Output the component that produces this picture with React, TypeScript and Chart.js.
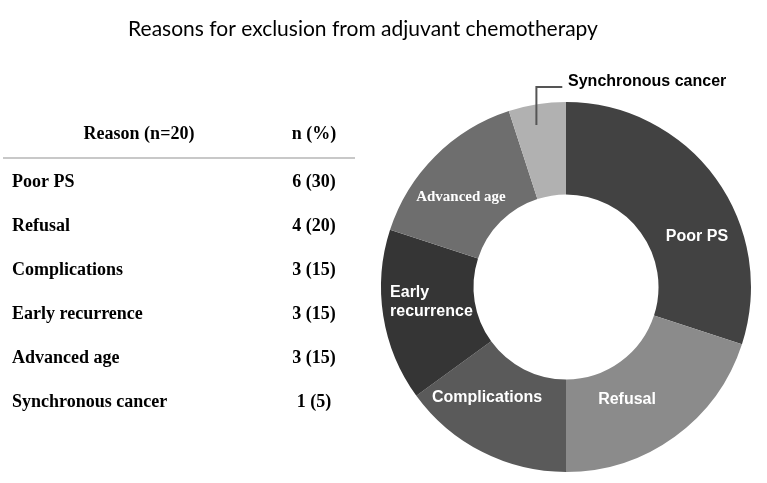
import React, { useEffect, useRef } from "react";
import { Chart, registerables } from "chart.js";

Chart.register(...registerables);

const TITLE = "Reasons for exclusion from adjuvant chemotherapy";
const reasons = ["Poor PS", "Refusal", "Complications", "Early recurrence", "Advanced age", "Synchronous cancer"];
const counts = [6, 4, 3, 3, 3, 1];
const percents = [30, 20, 15, 15, 15, 5];
const tableHeader = ["Reason (n=20)", "n (%)"];
const sliceColors = ["#424242", "#8b8b8b", "#5a5a5a", "#353535", "#6e6e6e", "#b1b1b1"];

// label placement relative to doughnut center, in units of outer radius
const labelPlacement = [
  { lines: ["Poor PS"], dx: 0.708, dy: -0.27, align: "center", font: "bold 16px 'Liberation Sans', Arial, sans-serif", color: "#ffffff" },
  { lines: ["Refusal"], dx: 0.33, dy: 0.611, align: "center", font: "bold 16px 'Liberation Sans', Arial, sans-serif", color: "#ffffff" },
  { lines: ["Complications"], dx: -0.427, dy: 0.6, align: "center", font: "bold 16px 'Liberation Sans', Arial, sans-serif", color: "#ffffff" },
  { lines: ["Early", "recurrence"], dx: -0.951, dy: 0.032, align: "left", font: "bold 16px 'Liberation Sans', Arial, sans-serif", color: "#ffffff" },
  { lines: ["Advanced age"], dx: -0.568, dy: -0.486, align: "center", font: "bold 15px 'Liberation Serif', 'Times New Roman', serif", color: "#ffffff" },
  { lines: ["Synchronous cancer"], dx: 0.011, dy: -1.108, align: "left", font: "bold 16px 'Liberation Sans', Arial, sans-serif", color: "#000000" },
];

const overlayPlugin = {
  id: "overlay",
  beforeDraw(chart: any) {
    const ctx = chart.ctx;
    ctx.save();
    ctx.fillStyle = "#ffffff";
    ctx.fillRect(0, 0, chart.width, chart.height);
    // title
    ctx.fillStyle = "#000000";
    ctx.font = "21px Lato, 'Open Sans', sans-serif";
    ctx.textAlign = "center";
    ctx.textBaseline = "middle";
    ctx.fillText(TITLE, 363, 29);
    // table
    ctx.font = "bold 18px 'Liberation Serif', 'Times New Roman', serif";
    ctx.fillText(tableHeader[0], 139, 134);
    ctx.fillText(tableHeader[1], 314, 134);
    ctx.strokeStyle = "#c8c8c8";
    ctx.lineWidth = 2;
    ctx.beginPath();
    ctx.moveTo(3, 158);
    ctx.lineTo(355, 158);
    ctx.stroke();
    reasons.forEach((r, i) => {
      const y = 182 + i * 44;
      ctx.textAlign = "left";
      ctx.fillText(r, 12, y);
      ctx.textAlign = "center";
      ctx.fillText(`${counts[i]} (${percents[i]})`, 314, y);
    });
    ctx.restore();
  },
  afterDatasetsDraw(chart: any) {
    const ctx = chart.ctx;
    const arc = chart.getDatasetMeta(0).data[0];
    if (!arc) return;
    const cx = arc.x;
    const cy = arc.y;
    const R = arc.outerRadius;
    ctx.save();
    // leader line for small slice
    ctx.strokeStyle = "#555555";
    ctx.lineWidth = 2;
    ctx.beginPath();
    ctx.moveTo(cx - 0.16 * R, cy - 0.876 * R);
    ctx.lineTo(cx - 0.16 * R, cy - 1.081 * R);
    ctx.lineTo(cx - 0.02 * R, cy - 1.081 * R);
    ctx.stroke();
    ctx.textBaseline = "middle";
    labelPlacement.forEach((l) => {
      ctx.font = l.font;
      ctx.fillStyle = l.color;
      ctx.textAlign = l.align;
      l.lines.forEach((line, j) => {
        ctx.fillText(line, cx + l.dx * R, cy + l.dy * R + j * 19);
      });
    });
    ctx.restore();
  },
};

export default function App() {
  const ref = useRef<HTMLCanvasElement>(null);
  useEffect(() => {
    if (!ref.current) return;
    const chart = new Chart(ref.current, {
      type: "doughnut",
      data: {
        labels: reasons,
        datasets: [
          {
            data: percents,
            backgroundColor: sliceColors,
            borderWidth: 0,
          },
        ],
      },
      options: {
        responsive: false,
        animation: false,
        cutout: "50%",
        layout: { padding: { left: 381, right: 16, top: 102, bottom: 11 } },
        plugins: {
          legend: { display: false },
          title: { display: false },
          tooltip: { enabled: false },
        },
      },
      plugins: [overlayPlugin],
    });
    return () => chart.destroy();
  }, []);
  return (
    <div style={{ position: "fixed", left: 0, top: 0, width: 767, height: 483, background: "#fff" }}>
      <canvas ref={ref} width={767} height={483} style={{ width: 767, height: 483 }} />
    </div>
  );
}
